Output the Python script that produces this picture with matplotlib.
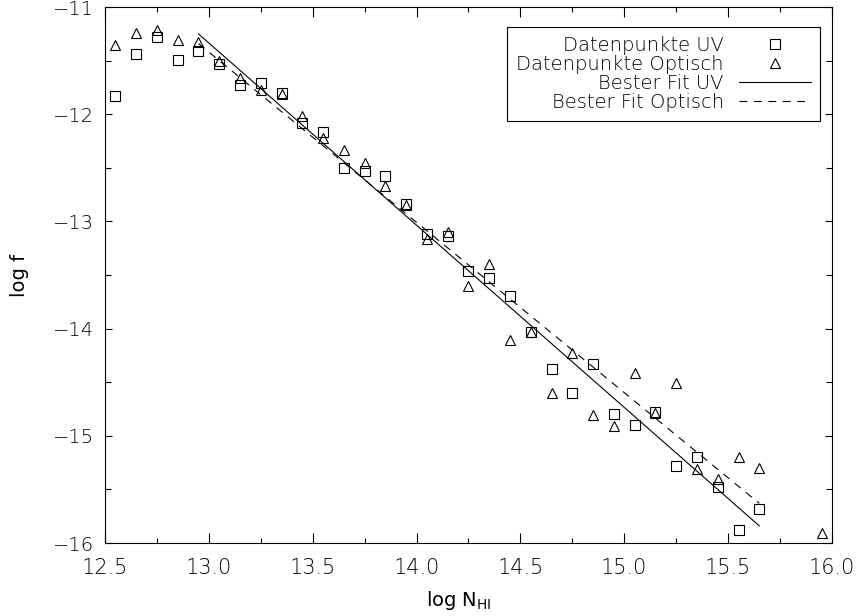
import matplotlib
matplotlib.use("Agg")
import matplotlib.pyplot as plt
from matplotlib.ticker import MultipleLocator, FormatStrFormatter

# ── daten ────────────────────────────────────────────────────────────────────
x_uv = [12.55, 12.65, 12.75, 12.85, 12.95, 13.05, 13.15, 13.25, 13.35, 13.45,
        13.55, 13.65, 13.75, 13.85, 13.95, 14.05, 14.15, 14.25, 14.35, 14.45,
        14.55, 14.65, 14.75, 14.85, 14.95, 15.05, 15.15, 15.25, 15.35, 15.45,
        15.55, 15.65]
y_uv = [-11.83, -11.44, -11.28, -11.49, -11.41, -11.53, -11.73, -11.71, -11.80, -12.08,
        -12.17, -12.50, -12.53, -12.58, -12.84, -13.12, -13.14, -13.46, -13.53, -13.70,
        -14.03, -14.38, -14.60, -14.33, -14.80, -14.90, -14.78, -15.28, -15.20, -15.48,
        -15.88, -15.68]

x_opt = [12.55, 12.65, 12.75, 12.85, 12.95, 13.05, 13.15, 13.25, 13.35, 13.45,
         13.55, 13.65, 13.75, 13.85, 13.95, 14.05, 14.15, 14.25, 14.35, 14.45,
         14.55, 14.65, 14.75, 14.85, 14.95, 15.05, 15.15, 15.25, 15.35, 15.45,
         15.55, 15.65, 15.95]
y_opt = [-11.35, -11.24, -11.21, -11.31, -11.33, -11.50, -11.66, -11.77, -11.81, -12.02,
         -12.22, -12.33, -12.45, -12.67, -12.85, -13.16, -13.10, -13.60, -13.40, -14.11,
         -14.03, -14.60, -14.23, -14.81, -14.91, -14.41, -14.79, -14.51, -15.31, -15.40,
         -15.20, -15.30, -15.91]

# fit-geraden (endpunkte)
fit_x = [12.95, 15.65]
fit_uv = [-11.25, -15.84]
fit_opt = [-11.34, -15.63]

FONT = "DejaVu Sans"
plt.rcParams["font.family"] = FONT
plt.rcParams["font.weight"] = "light"
plt.rcParams["mathtext.fontset"] = "custom"
plt.rcParams["mathtext.rm"] = FONT + ":light"

LW = 0.8

# ── figur ────────────────────────────────────────────────────────────────────
fig = plt.figure(figsize=(8.57, 6.16), dpi=100, facecolor="white")
ax = fig.add_axes([0.1225, 0.1185, 0.8483, 0.8700])

ax.plot(x_uv, y_uv, ls="none", marker="s", ms=7, mfc="none", mec="black",
        mew=LW, label="Datenpunkte UV")
ax.plot(x_opt, y_opt, ls="none", marker="^", ms=7.5, mfc="none", mec="black",
        mew=LW, label="Datenpunkte Optisch")
ax.plot(fit_x, fit_uv, color="black", lw=LW, label="Bester Fit UV")
ax.plot(fit_x, fit_opt, color="black", lw=LW, dashes=(7, 6),
        label="Bester Fit Optisch")

ax.set_xlim(12.5, 16.0)
ax.set_ylim(-16, -11)
ax.xaxis.set_major_locator(MultipleLocator(0.5))
ax.xaxis.set_minor_locator(MultipleLocator(0.25))
ax.yaxis.set_major_locator(MultipleLocator(1))
ax.yaxis.set_minor_locator(MultipleLocator(0.5))
ax.xaxis.set_major_formatter(FormatStrFormatter("%.1f"))

for s in ax.spines.values():
    s.set_linewidth(LW)
ax.tick_params(which="both", direction="in", top=True, right=True, width=LW)
ax.tick_params(axis="x", which="major", length=7, labelsize=15, pad=11)
ax.tick_params(axis="x", which="minor", length=3.6)
ax.tick_params(axis="y", which="major", length=5, labelsize=14, pad=8)
ax.tick_params(axis="y", which="minor", length=4)

ax.set_xlabel(r"log N$_{\mathregular{HI}}$", fontsize=14, labelpad=4)
ax.set_ylabel("log f", fontsize=14, labelpad=17)
ax.xaxis.set_label_coords(0.487, -0.085)

leg = ax.legend(loc="upper right", bbox_to_anchor=(0.9835, 0.9627),
                borderaxespad=0, markerfirst=False, fancybox=False,
                edgecolor="black", framealpha=1, fontsize=14,
                handlelength=3.7, handletextpad=0.8, labelspacing=0.0,
                borderpad=0.45)
leg.get_frame().set_linewidth(LW)

fig.savefig("out.png", dpi=100, facecolor="white")
